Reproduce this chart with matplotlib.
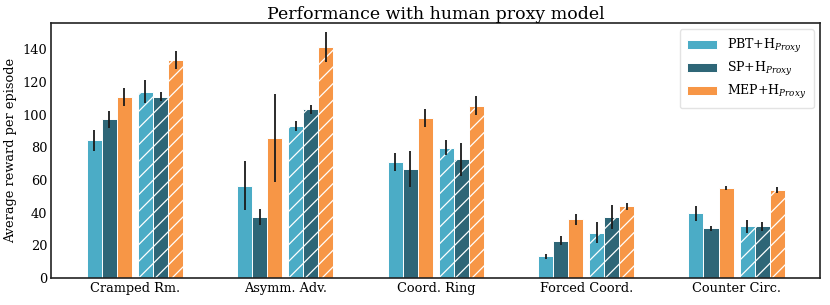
import numpy as np
import matplotlib
matplotlib.use("Agg")
import matplotlib.pyplot as plt

plt.rcParams['font.family'] = ['DejaVu Serif']
plt.rcParams['mathtext.fontset'] = 'dejavuserif'
plt.rcParams['hatch.color'] = 'white'
plt.rcParams['hatch.linewidth'] = 0.9

layouts = ['Cramped Rm.', 'Asymm. Adv.', 'Coord. Ring', 'Forced Coord.', 'Counter Circ.']
labels = ['PBT+H$_{Proxy}$', 'SP+H$_{Proxy}$', 'MEP+H$_{Proxy}$']
colors = ['#4bacc6', '#2e6677', '#f79646']

# plain bars (first set) and hatched bars (second set)
pbt = [84.2, 56.5, 70.8, 13.5, 39.6]
pbt_err = [6.5, 15, 5.6, 1.5, 4.8]
sp = [97, 37.3, 66.7, 23, 30.6]
sp_err = [5.3, 4.7, 11, 2.6, 1.5]
mep = [110.7, 85.8, 97.9, 35.9, 54.9]
mep_err = [5.2, 27, 5.4, 3.4, 1.3]

pbt_h = [113.8, 93, 79.7, 27.9, 31.8]
pbt_h_err = [7, 3.3, 4.5, 6.5, 3.9]
sp_h = [111, 103.2, 72.6, 37.3, 31.6]
sp_h_err = [3, 2.9, 10.2, 7.5, 3]
mep_h = [133.3, 141.3, 105.4, 44, 53.8]
mep_h_err = [5.5, 9.3, 5.8, 2.2, 2]

x = np.arange(len(layouts))
w = 0.1

fig, ax = plt.subplots(figsize=(8.3, 3.05), dpi=100)
fig.subplots_adjust(left=0.062, right=0.988, top=0.925, bottom=0.088)

plain = [(pbt, pbt_err), (sp, sp_err), (mep, mep_err)]
hatched = [(pbt_h, pbt_h_err), (sp_h, sp_h_err), (mep_h, mep_h_err)]
offs_plain = [-0.27, -0.17, -0.07]
offs_hatch = [0.07, 0.17, 0.27]

for i in range(3):
    vals, err = plain[i]
    ax.bar(x + offs_plain[i], vals, w, color=colors[i], edgecolor='white', linewidth=0.7,
           label=labels[i])
    ax.errorbar(x + offs_plain[i], vals, yerr=err, fmt='none', ecolor='#1a1a1a', elinewidth=1.3, capsize=0)
    vals, err = hatched[i]
    ax.bar(x + offs_hatch[i], vals, w, color=colors[i], edgecolor='white', linewidth=0.7,
           hatch='//')
    ax.errorbar(x + offs_hatch[i], vals, yerr=err, fmt='none', ecolor='#1a1a1a', elinewidth=1.3, capsize=0)

ax.set_xlim(-0.555, 4.555)
ax.set_ylim(0, 156)
ax.set_yticks(np.arange(0, 141, 20))
ax.set_xticks(x)
ax.set_xticklabels(layouts, fontsize=9.3)
ax.tick_params(axis='both', length=0, labelsize=9.3, pad=3)
ax.set_ylabel('Average reward per episode', fontsize=9.3)
ax.set_title('Performance with human proxy model', fontsize=12.5, pad=3)
for s in ax.spines.values():
    s.set_color('#222222')
    s.set_linewidth(1.2)

leg = ax.legend(loc='upper right', fontsize=9, frameon=True, handlelength=2.4,
                borderpad=0.6, labelspacing=0.4, borderaxespad=0.5)
leg.get_frame().set_edgecolor('#dddddd')

fig.savefig('out.png', dpi=100)
